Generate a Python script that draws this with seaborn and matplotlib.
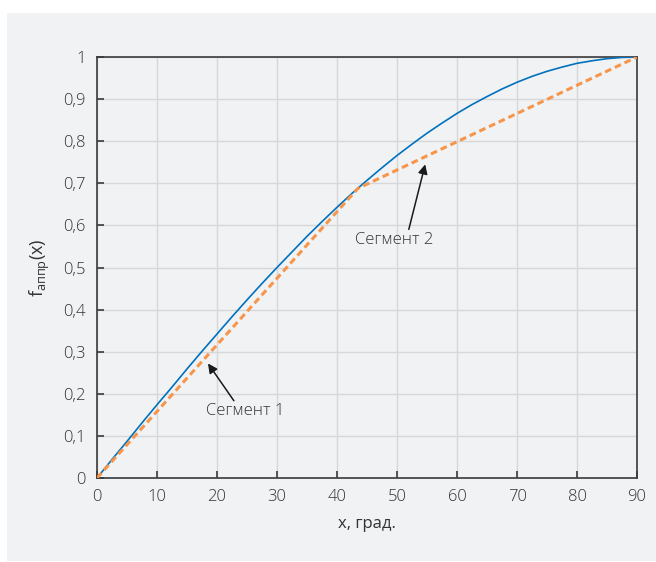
import numpy as np
import pandas as pd
import seaborn as sns
import matplotlib.pyplot as plt
from matplotlib.patches import Rectangle

# Exact curve f(x), read every 2.5 degrees
x_deg = [0, 2.5, 5, 7.5, 10, 12.5, 15, 17.5, 20, 22.5, 25, 27.5, 30, 32.5, 35,
         37.5, 40, 42.5, 45, 47.5, 50, 52.5, 55, 57.5, 60, 62.5, 65, 67.5, 70,
         72.5, 75, 77.5, 80, 82.5, 85, 87.5, 90]
f_exact = [0.0, 0.044, 0.087, 0.131, 0.174, 0.216, 0.259, 0.301, 0.342, 0.383,
           0.423, 0.462, 0.5, 0.537, 0.574, 0.609, 0.643, 0.676, 0.707, 0.737,
           0.766, 0.793, 0.819, 0.843, 0.866, 0.887, 0.906, 0.924, 0.940,
           0.954, 0.966, 0.976, 0.985, 0.991, 0.996, 0.999, 1.0]

# Piecewise linear approximation
x_appr = [0, 43.5, 90]
f_appr = [0.0, 0.688, 1.0]

x_ticks = [0, 10, 20, 30, 40, 50, 60, 70, 80, 90]
y_ticks = [0, 0.1, 0.2, 0.3, 0.4, 0.5, 0.6, 0.7, 0.8, 0.9, 1.0]
y_labels = ['0', '0,1', '0,2', '0,3', '0,4', '0,5', '0,6', '0,7', '0,8', '0,9', '1']

bg = '#f1f2f4'
plt.rcParams['font.family'] = ['Open Sans', 'DejaVu Sans']
plt.rcParams['font.weight'] = 'light'
plt.rcParams['mathtext.fontset'] = 'custom'
plt.rcParams['mathtext.rm'] = 'Open Sans:light'

fig = plt.figure(figsize=(6.56, 5.62), dpi=100)
panel = Rectangle((7 / 656, 1 / 562), 649 / 656, 548 / 562,
                  transform=fig.transFigure, facecolor=bg,
                  edgecolor='none', zorder=-10)
fig.patches.append(panel)
ax = fig.add_axes([97 / 656, 1 - 478 / 562, 540 / 656, 421 / 562])
ax.set_zorder(1)
ax.set_facecolor(bg)

df_exact = pd.DataFrame({'x': x_deg, 'f': f_exact})
df_appr = pd.DataFrame({'x': x_appr, 'f': f_appr})
sns.lineplot(data=df_exact, x='x', y='f', ax=ax, color='#0072BD', lw=1.2, zorder=3)
sns.lineplot(data=df_appr, x='x', y='f', ax=ax, color='#F7954A', lw=2.2,
             linestyle=(0, (2.2, 1.3)), zorder=4)

ax.set_xlim(0, 90)
ax.set_ylim(0, 1)
ax.set_xticks(x_ticks)
ax.set_yticks(y_ticks)
ax.set_yticklabels(y_labels)
ax.grid(True, color='#d6d7d9', lw=1)
ax.set_axisbelow(True)
for s in ax.spines.values():
    s.set_color('#3a3a3a')
    s.set_linewidth(1.2)
ax.tick_params(direction='in', length=5, width=1.2, colors='#3a3a3a',
               labelsize=12, labelcolor='#333333', pad=8)

ax.set_xlabel('x, град.', fontsize=12, color='#333333', labelpad=8)
ax.set_ylabel(r'$\mathregular{f_{аппр}(x)}$', fontsize=13, color='#333333', labelpad=8)

arrow = dict(arrowstyle='-|>', color='#1a1a1a', lw=1.1, mutation_scale=14,
             shrinkA=0, shrinkB=0)
ax.annotate('Сегмент 2', xy=(54.7, 0.745), xytext=(49.5, 0.565),
            ha='center', va='center', fontsize=12, color='#333333',
            arrowprops=dict(arrow, relpos=(0.68, 1.0)))
ax.annotate('Сегмент 1', xy=(18.5, 0.272), xytext=(24.7, 0.158),
            ha='center', va='center', fontsize=12, color='#333333',
            arrowprops=dict(arrow, relpos=(0.38, 1.0)))

fig.savefig('out.png', dpi=100, facecolor='white')
